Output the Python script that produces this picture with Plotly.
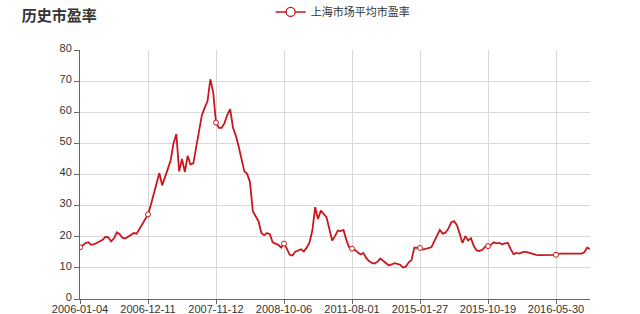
import plotly.graph_objects as go

title_text = "历史市盈率"
series_name = "上海市场平均市盈率"

tick_labels = ["2006-01-04", "2006-12-11", "2007-11-12", "2008-10-06",
               "2011-08-01", "2015-01-27", "2015-10-19", "2016-05-30"]
points_per_label = 24

pe_seg1 = [16.6, 17.2, 18.0, 18.2, 17.4, 17.6, 18.0, 18.6, 19.0, 20.0, 19.8, 18.5, 19.5,
           21.4, 20.8, 19.6, 19.5, 20.0, 20.5, 21.2, 21.0, 22.5, 24.0, 25.5, 27.2]
pe_seg2 = [30.2, 33.8, 37.5, 40.5, 36.5, 39.5, 41.8, 44.6, 50.0, 53.0, 41.0, 45.0,
           40.8, 46.0, 43.2, 43.6, 48.5, 53.2, 59.0, 61.5, 63.5, 70.6, 66.5, 56.7]
pe_seg3 = [55.0, 55.0, 56.5, 59.2, 61.0, 55.0, 52.5, 49.0, 44.5, 41.0, 40.2, 37.5,
           28.2, 26.5, 25.0, 21.2, 20.5, 21.2, 20.8, 18.2, 17.7, 17.4, 16.5, 17.8]
pe_seg4 = [16.2, 14.2, 14.0, 15.2, 15.6, 16.0, 15.3, 16.5, 18.2, 22.0, 29.5, 25.7,
           28.4, 27.3, 26.3, 22.5, 18.8, 20.2, 22.0, 21.8, 22.2, 19.0, 16.5, 16.2]
pe_seg5 = [15.8, 15.0, 14.3, 14.8, 13.2, 12.2, 11.6, 11.4, 12.0, 13.0, 12.2, 11.6,
           10.8, 11.1, 11.5, 11.3, 11.0, 10.1, 10.4, 11.8, 12.5, 16.5, 16.5, 16.4]
pe_seg6 = [15.9, 16.1, 16.3, 16.6, 18.5, 20.3, 22.2, 21.0, 21.3, 22.6, 24.6, 25.0,
           23.8, 21.0, 18.0, 20.2, 18.8, 19.5, 17.0, 15.6, 15.4, 15.8, 16.8, 17.0]
pe_seg7 = [17.4, 18.2, 17.9, 18.0, 17.6, 17.9, 18.0, 16.0, 14.4, 14.8, 14.6, 15.0,
           15.2, 15.0, 14.7, 14.3, 14.2, 14.1, 14.1, 14.0, 14.0, 14.0, 14.1, 14.2]
pe_tail = [14.6, 14.6, 14.6, 14.6, 14.4, 14.4, 14.5, 14.5, 14.6, 15.0, 16.5, 16.1]

pe_values = pe_seg1 + pe_seg2 + pe_seg3 + pe_seg4 + pe_seg5 + pe_seg6 + pe_seg7 + pe_tail
x_index = list(range(len(pe_values)))
tick_vals = [i * points_per_label for i in range(len(tick_labels))]

RED = "#c8171d"
FONT = "Liberation Sans, Noto Sans CJK SC, sans-serif"

fig = go.Figure()
fig.add_trace(go.Scatter(x=x_index, y=pe_values, mode="lines",
                         line=dict(color=RED, width=1.8), showlegend=False,
                         hoverinfo="skip"))
fig.add_trace(go.Scatter(x=tick_vals, y=[pe_values[i] for i in tick_vals], mode="markers",
                         marker=dict(symbol="circle", size=5, color="white",
                                     line=dict(color=RED, width=1)),
                         showlegend=False))
fig.add_trace(go.Scatter(x=[None], y=[None], mode="lines+markers", name=series_name,
                         line=dict(color=RED, width=1.5),
                         marker=dict(symbol="circle", size=9, color="white",
                                     line=dict(color=RED, width=1.3))))

fig.update_layout(
    width=640, height=314,
    margin=dict(l=80, r=50, t=50, b=15),
    paper_bgcolor="white", plot_bgcolor="white",
    font=dict(family=FONT, size=11, color="#333"),
    title=dict(text="<b>" + title_text + "</b>", x=0.034, xanchor="left",
               y=0.95, yanchor="middle", font=dict(size=15, color="#333")),
    legend=dict(orientation="h", x=0.515, xanchor="center", yref="container",
                y=0.962, yanchor="middle",
                font=dict(size=11, color="#333"), itemwidth=30,
                bgcolor="rgba(0,0,0,0)"),
)
fig.update_xaxes(range=[0, len(pe_values) - 1], tickmode="array", tickvals=tick_vals,
                 ticktext=tick_labels, showgrid=True, gridcolor="#d9d9d9", gridwidth=1,
                 showline=True, linecolor="#666", linewidth=1, ticks="outside",
                 ticklen=4, tickcolor="#666", zeroline=False, automargin=False,
                 ticklabelstandoff=-4,
                 tickfont=dict(size=11, color="#333"))
fig.update_yaxes(range=[0, 80], dtick=10, showgrid=True, gridcolor="#d9d9d9", gridwidth=1,
                 showline=True, linecolor="#666", linewidth=1, ticks="outside",
                 ticklen=5, tickcolor="#666", zeroline=False, automargin=False,
                 ticklabelshift=-2,
                 tickfont=dict(size=11, color="#333"))

fig.write_html("out.html")
